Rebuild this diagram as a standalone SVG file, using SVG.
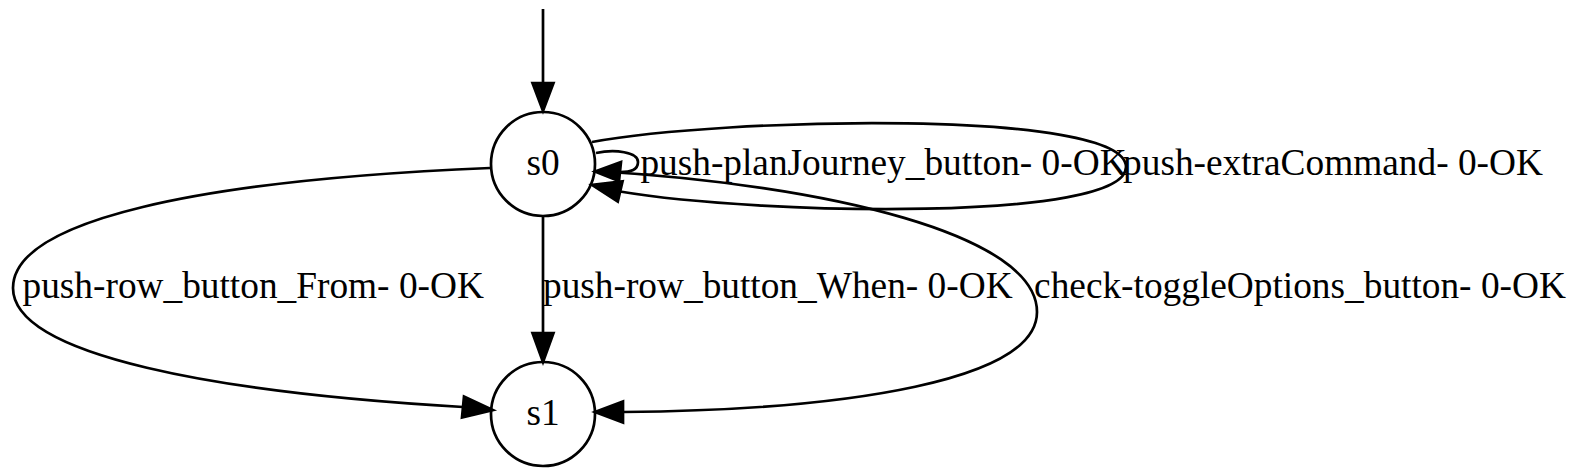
<svg xmlns="http://www.w3.org/2000/svg" width="1574" height="475" viewBox="0 0 1574 475">
<style>
.node circle{fill:none;stroke:#000;stroke-width:2.7}
.edge path{fill:none;stroke:#000;stroke-width:2.7}
.edge polygon{fill:#000;stroke:#000;stroke-width:2.7}
text{font-family:"Liberation Serif","Times New Roman",serif;font-size:37.33px;fill:#000;text-anchor:middle}
</style>
<rect width="1574" height="475" fill="#fff"/>
<g id="node-s0" class="node">
<circle cx="543" cy="164" r="52"/>
<text x="543" y="175">s0</text>
</g>
<g id="node-s1" class="node">
<circle cx="543" cy="414" r="52"/>
<text x="543" y="425">s1</text>
</g>
<g id="edges" class="edge">
<g id="edge-init">
<path d="M543,9 L543,83"/>
<polygon points="532.5,83 553.5,83 543,111"/>
</g>
<g id="edge-planJourney">
<path d="M596,153 C615,149 638,152 638,162 C638,170 631,172 620,172"/>
<polygon points="621,162 619,181 595,171.5"/>
<text x="883.5" y="175">push-planJourney_button- 0-OK</text>
</g>
<g id="edge-extraCommand">
<path d="M592,142 C720,118 1126,108 1126,167 C1126,222 760,215 620,191.5"/>
<polygon points="622.6,181.3 617.8,201.7 592,185"/>
<text x="1333" y="175">push-extraCommand- 0-OK</text>
</g>
<g id="edge-from">
<path d="M490,168 C200,180 13,220 13,288 C13,356 220,393 463,407"/>
<polygon points="464,396.5 462,417.5 493,410"/>
<text x="253.2" y="298.3">push-row_button_From- 0-OK</text>
</g>
<g id="edge-when">
<path d="M543,216 L543,333"/>
<polygon points="532.5,333 553.5,333 543,362"/>
<text x="777.8" y="298.3">push-row_button_When- 0-OK</text>
</g>
<g id="edge-toggle">
<path d="M595,171 C830,185 1037,235 1037,312 C1037,380 850,410 623,412"/>
<polygon points="623,401.5 623,422.5 595,412"/>
<text x="1300" y="298.3">check-toggleOptions_button- 0-OK</text>
</g>
</g>
</svg>
